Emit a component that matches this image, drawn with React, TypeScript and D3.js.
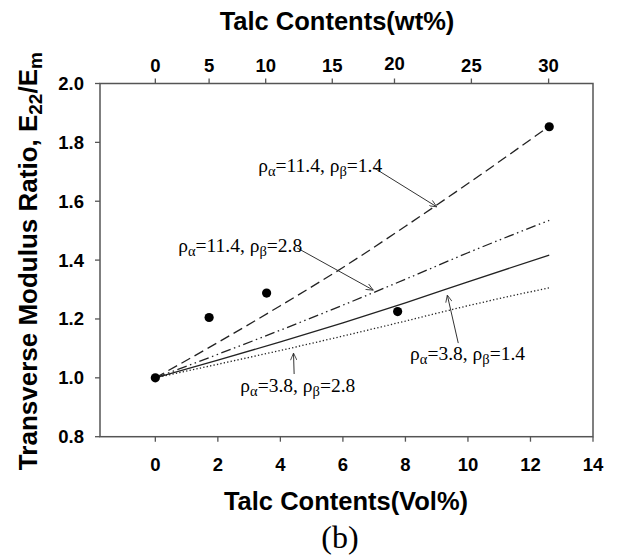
import React from 'react';
import * as d3 from 'd3';

// Talc contents in vol% (bottom axis) and the wt% labels for the top axis
const volTicks = [0, 2, 4, 6, 8, 10, 12, 14];
const yTicks = [0.8, 1.0, 1.2, 1.4, 1.6, 1.8, 2.0];
const wtTickLabels = [0, 5, 10, 15, 20, 25, 30];
const wtTickVol = [0, 1.72, 3.53, 5.66, 7.65, 10.11, 12.58];

// experiment
const expVol = [0, 1.72, 3.56, 7.75, 12.6];
const expRatio = [1.0, 1.205, 1.288, 1.225, 1.853];

// model curves
const modelVol = [0, 2, 4, 6, 8, 10, 12.6];
const curveA = [1.0, 1.12, 1.245, 1.375, 1.515, 1.66, 1.855]; // 11.4, 1.4
const curveB = [1.0, 1.08, 1.162, 1.247, 1.335, 1.425, 1.535]; // 11.4, 2.8
const curveC = [1.0, 1.06, 1.122, 1.187, 1.255, 1.326, 1.417]; // 3.8, 1.4
const curveD = [1.0, 1.046, 1.093, 1.142, 1.193, 1.245, 1.306]; // 3.8, 2.8

const series = [
  { vals: curveA, dash: '10,5' },
  { vals: curveB, dash: '10,3.5,1.5,3.5,1.5,3.5' },
  { vals: curveC, dash: null },
  { vals: curveD, dash: '1.3,2.2' },
];

// labels: [alpha, beta], text pos, arrow from, arrow to (data units)
const notes = [
  { a: '11.4', b: '1.4', tx: 3.29, ty: 1.698, fx: 7.0, fy: 1.713, ex: 9.0, ey: 1.581 },
  { a: '11.4', b: '2.8', tx: 0.73, ty: 1.427, fx: 4.54, fy: 1.441, ex: 6.97, ey: 1.298 },
  { a: '3.8', b: '1.4', tx: 8.15, ty: 1.06, fx: 9.69, fy: 1.118, ex: 9.34, ey: 1.281 },
  { a: '3.8', b: '2.8', tx: 2.72, ty: 0.952, fx: 4.44, fy: 1.013, ex: 4.42, ey: 1.084 },
];

const W = 618;
const H = 557;
const left = 100, right = 593, top = 83.5, bottom = 436.7;
const sans = "'Liberation Sans', Arial, sans-serif";
const serif = "'Liberation Serif', 'Times New Roman', serif";

export default function App() {
  const x = d3.scaleLinear().domain([-1.77, 14]).range([left, right]);
  const y = d3.scaleLinear().domain([0.8, 2.0]).range([bottom, top]);

  const line = d3
    .line<number>()
    .x((d, i) => x(modelVol[i]))
    .y((d) => y(d))
    .curve(d3.curveMonotoneX);

  const axisColor = '#555';

  return (
    <svg width={W} height={H} style={{ position: 'absolute', left: 0, top: 0, background: '#fff' }}>
      <defs>
        <marker id="arr" viewBox="0 0 10 10" refX="10" refY="5" markerWidth="9" markerHeight="7"
          markerUnits="userSpaceOnUse" orient="auto">
          <path d="M0,0.5 L10,5 L0,9.5" fill="none" stroke="#333" strokeWidth="1.2" />
        </marker>
      </defs>

      {/* frame */}
      <rect x={left} y={top} width={right - left} height={bottom - top} fill="none" stroke={axisColor} strokeWidth={1.5} />

      {/* bottom axis */}
      {volTicks.map((t) => (
        <g key={'b' + t}>
          <line x1={x(t)} x2={x(t)} y1={bottom} y2={bottom + 5} stroke={axisColor} strokeWidth={1.3} />
          <text x={x(t)} y={471} textAnchor="middle" fontFamily={sans} fontWeight="bold" fontSize={18.5}>{t}</text>
        </g>
      ))}
      {/* left axis */}
      {yTicks.map((t) => (
        <g key={'l' + t}>
          <line x1={left - 5} x2={left} y1={y(t)} y2={y(t)} stroke={axisColor} strokeWidth={1.3} />
          <text x={84} y={y(t) + 6.5} textAnchor="end" fontFamily={sans} fontWeight="bold" fontSize={18.5}>{t.toFixed(1)}</text>
        </g>
      ))}
      {/* top axis (wt%) */}
      {wtTickLabels.map((t, i) => (
        <g key={'t' + t}>
          <line x1={x(wtTickVol[i])} x2={x(wtTickVol[i])} y1={top} y2={top - 5} stroke={axisColor} strokeWidth={1.3} />
          <text x={x(wtTickVol[i])} y={t === 20 ? 70 : 72} textAnchor="middle" fontFamily={sans} fontWeight="bold" fontSize={18.5}>{t}</text>
        </g>
      ))}

      {/* titles */}
      <text x={337} y={30} textAnchor="middle" fontFamily={sans} fontWeight="bold" fontSize={25.5}>Talc Contents(wt%)</text>
      <text x={346} y={510} textAnchor="middle" fontFamily={sans} fontWeight="bold" fontSize={25.5}>Talc Contents(Vol%)</text>
      <text x={340} y={548} textAnchor="middle" fontFamily={serif} fontSize={32}>(b)</text>
      <text transform={`translate(37,${(top + bottom) / 2 + 1}) rotate(-90)`} textAnchor="middle" fontFamily={sans} fontWeight="bold" fontSize={26}>
        Transverse Modulus Ratio, E<tspan fontSize={19} dy={5}>22</tspan><tspan dy={-5}>/E</tspan><tspan fontSize={19} dy={5}>m</tspan>
      </text>

      {/* model curves */}
      {series.map((s, i) => (
        <path key={'s' + i} d={line(s.vals) || ''} fill="none" stroke="#222" strokeWidth={1.3}
          strokeDasharray={s.dash || undefined} />
      ))}

      {/* experiment */}
      {expVol.map((v, i) => (
        <circle key={'p' + i} cx={x(v)} cy={y(expRatio[i])} r={4.6} fill="#000" />
      ))}

      {/* annotations */}
      {notes.map((n, i) => (
        <g key={'n' + i}>
          <line x1={x(n.fx)} y1={y(n.fy)} x2={x(n.ex)} y2={y(n.ey)} stroke="#333" strokeWidth={1} markerEnd="url(#arr)" />
          <text x={x(n.tx)} y={y(n.ty)} fontFamily={serif} fontSize={19.5}>
            ρ<tspan fontSize={14.5} dy={4}>α</tspan><tspan dy={-4}>={n.a}, ρ</tspan><tspan fontSize={14.5} dy={4}>β</tspan><tspan dy={-4}>={n.b}</tspan>
          </text>
        </g>
      ))}
    </svg>
  );
}
